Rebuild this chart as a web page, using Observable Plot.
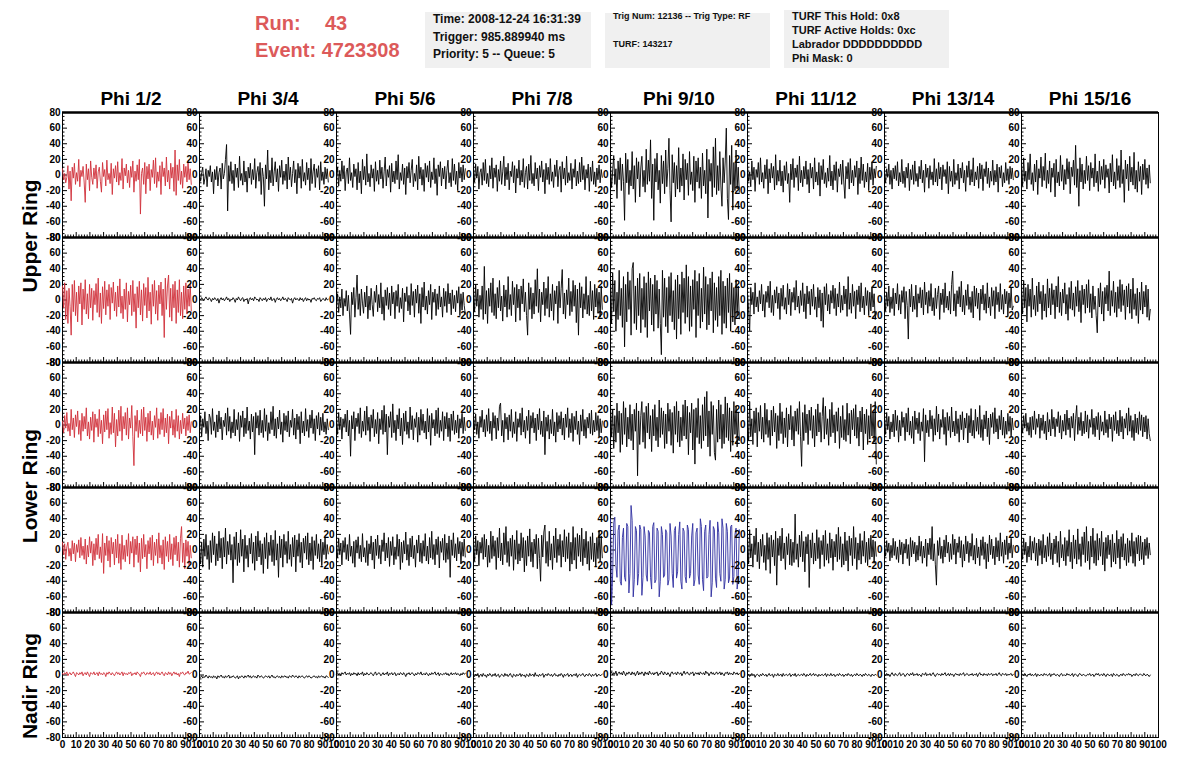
<!DOCTYPE html>
<html><head><meta charset="utf-8">
<script src="https://cdn.jsdelivr.net/npm/d3@7"></script>
<script src="https://cdn.jsdelivr.net/npm/@observablehq/plot@0.6"></script>
<style>
body{margin:0;background:#fff;font-family:"Liberation Sans",Arial,sans-serif;}
#wrap{position:relative;width:1196px;height:772px;overflow:hidden;}
#wrap svg{position:absolute;left:0;top:0;overflow:visible}
.run{position:absolute;color:#dc5a5a;font-weight:bold;font-size:20px;line-height:24px;white-space:nowrap}
.box{position:absolute;background:#f0f0f0;font-weight:bold;color:#111}
.box div{position:absolute;left:8px;white-space:nowrap}
.rowlab{position:absolute;font-weight:bold;font-size:21px;line-height:24px;white-space:nowrap;transform:translate(-50%,-50%) rotate(-90deg);left:30px}
</style></head>
<body>
<div id="wrap">
  <div class="run" style="left:255px;top:11px">Run:</div>
  <div class="run" style="left:325px;top:11px">43</div>
  <div class="run" style="left:255px;top:38px">Event: 4723308</div>
  <div class="box" style="left:425px;top:12px;width:166px;height:56px;font-size:12px;line-height:14px">
    <div style="top:0px">Time: 2008-12-24 16:31:39</div>
    <div style="top:18px">Trigger: 985.889940 ms</div>
    <div style="top:35px">Priority: 5 -- Queue: 5</div>
  </div>
  <div class="box" style="left:605px;top:13px;width:165px;height:55px;font-size:9px;line-height:10px">
    <div style="top:-2px">Trig Num: 12136 -- Trig Type: RF</div>
    <div style="top:26px">TURF: 143217</div>
  </div>
  <div class="box" style="left:784px;top:10px;width:165px;height:58px;font-size:11px;line-height:12px">
    <div style="top:0px">TURF This Hold: 0x8</div>
    <div style="top:14px">TURF Active Holds: 0xc</div>
    <div style="top:28px">Labrador DDDDDDDDDD</div>
    <div style="top:42px">Phi Mask: 0</div>
  </div>
  <div class="rowlab" style="top:236px">Upper Ring</div>
  <div class="rowlab" style="top:486px">Lower Ring</div>
  <div class="rowlab" style="top:686px">Nadir Ring</div>
</div>
<script>
// ---- categories / ticks ----
const phiLabels = ["Phi 1/2","Phi 3/4","Phi 5/6","Phi 7/8","Phi 9/10","Phi 11/12","Phi 13/14","Phi 15/16"];
const yTicks = [-80,-60,-40,-20,0,20,40,60,80];
const yMinorTicks = [-75,-70,-65,-55,-50,-45,-35,-30,-25,-15,-10,-5,5,10,15,25,30,35,45,50,55,65,70,75];
const xTicks = [0,10,20,30,40,50,60,70,80,90,100];
const xMinorTicks = [2,4,6,8,12,14,16,18,22,24,26,28,32,34,36,38,42,44,46,48,52,54,56,58,62,64,66,68,72,74,76,78,82,84,86,88,92,94,96,98];
const dtNs = 0.79; // sample spacing (ns)

// ---- Upper ring, first row (Phi 1/2 ... Phi 15/16) ----
const upperA = [
[8,-6,2,-10,-3,12,-18,5,-33,10,-4,15,-12,3,-8,20,-15,6,-2,11,-9,-35,14,-6,8,-20,18,-3,-12,9,-5,13,-17,4,10,-8,-22,16,-2,7,-14,19,-6,2,-11,15,-25,8,-4,12,-9,17,-13,3,-7,21,-18,9,-1,14,-10,6,-16,11,-3,18,-22,5,-8,13,-6,20,-50,2,9,-12,16,-24,11,-5,14,-20,7,-3,19,-11,22,-16,4,-8,12,-25,17,-2,9,-14,23,-9,6,-18,15,-4,10,-21,32,-26,13,-7,20,-12,5,-17,14,-3,11,-9,16,-6,8,-12],
[5,-8,3,10,-12,-4,8,-15,6,-2,12,-9,4,-24,7,-6,11,-14,3,9,-18,15,-5,2,20,39,-46,12,-8,17,-11,6,-20,14,-3,9,-16,24,-7,2,-13,18,-9,5,-22,10,-4,15,-12,7,-6,21,-17,3,11,-8,16,-25,9,-2,-40,13,-5,32,-19,6,-10,22,-14,4,17,-9,8,-21,12,-3,19,-12,5,-7,14,-18,23,-6,10,-15,2,18,-10,7,-24,15,-4,11,-17,20,-8,3,-13,16,-6,9,-20,21,-11,5,14,-16,8,-3,12,-19,17,-7,4,-12,10,-5,8,-9],
[-3,10,-14,6,-8,18,-5,12,-20,4,9,-11,22,-7,3,-16,14,-2,8,-19,16,-10,5,-24,20,-6,11,-13,27,-9,2,-15,13,-4,8,-21,17,-8,6,-12,19,-5,10,-17,4,23,-14,7,-3,12,-22,15,-9,5,-11,18,-6,26,-18,3,-7,14,-12,9,-25,11,-4,16,-10,6,20,-15,2,-8,13,-19,24,-5,10,-13,7,-21,15,-3,12,-9,18,-16,4,-6,22,-11,8,-26,13,-2,17,-14,9,-5,11,-18,6,19,-10,3,-15,21,-7,14,-12,5,-20,16,-4,10,-9,13,-6,8],
[6,-9,14,-4,11,-18,3,8,-13,16,-7,20,-11,2,-15,12,-5,22,-17,9,-3,13,-21,7,-8,18,-12,4,24,-14,10,-6,15,-19,5,-2,17,-10,12,-23,8,-4,19,-13,6,-9,21,-16,3,11,-18,14,-7,25,-11,2,-14,16,-5,9,-20,12,-3,18,-9,7,-24,15,-6,10,-12,21,-8,4,-16,13,-2,19,-15,6,11,-22,17,-5,9,-13,24,-10,3,-7,15,-18,8,-3,20,-14,5,-11,16,-9,23,-6,12,-19,7,-4,14,-21,10,-8,18,-12,4,-15,9,-6,13,-10,7,-3],
[10,-16,5,25,-12,8,-30,18,-6,22,-20,14,-8,-58,28,-10,20,-25,6,-14,30,-18,12,-35,22,-5,17,-28,9,24,-15,6,-22,33,-12,19,-8,45,-30,14,-58,21,-9,28,-19,6,-36,25,-11,18,-24,32,-15,8,47,-20,-60,26,-10,16,-28,12,-18,35,-22,9,-14,27,-32,20,-6,15,-26,30,-12,4,-20,24,-35,18,-9,22,-17,10,-30,28,-14,6,-24,33,-55,20,-8,15,-28,36,-16,47,-25,12,-20,30,-14,-40,22,-10,18,60,-30,-57,25,-12,38,-45,16,-20,32,-18,10,-22],
[12,-8,4,-15,18,-6,10,-21,7,-3,16,-12,22,-9,3,-17,13,-5,20,-24,8,-10,15,-4,11,-19,26,-13,6,-8,19,-14,5,-22,12,-7,17,-11,2,-35,14,-6,21,-16,9,-3,13,-20,24,-10,6,-15,11,-5,18,-12,7,-23,15,-4,10,-18,22,-9,4,-13,16,-27,12,-6,20,-11,3,-16,9,-8,25,-14,5,-19,13,-7,17,-22,8,-2,14,-12,19,-9,-30,11,-5,16,-18,21,-10,6,-14,12,-3,18,-25,9,-11,23,-7,14,-16,4,-9,15,-20,10,-6,17,-13,8,-4,11],
[4,-10,8,-3,14,-12,6,-18,9,-5,12,-7,17,-14,3,-9,20,-11,5,-16,10,-4,15,-20,7,-6,13,-12,18,-8,2,-15,11,-5,19,-10,6,-22,14,-3,9,-17,12,-6,4,-13,21,-9,8,-14,16,-5,10,-19,13,-2,7,-11,17,-24,11,-8,5,-15,20,-12,3,-7,14,-18,9,-4,16,-10,6,-21,12,-3,18,-13,7,-9,22,-14,4,-6,11,-17,15,-5,13,-20,8,-2,17,-11,9,-16,5,-8,19,-13,6,-9,14,-22,10,-4,12,-15,3,-10,16,-7,8,-12,11,-5,9,-6],
[10,-14,22,-8,5,-18,16,-6,27,-12,3,-20,14,-9,19,-25,8,-4,23,-15,11,-7,28,-17,6,-11,18,-22,9,-3,15,-28,20,-10,4,-14,25,-8,13,-19,7,-12,21,-5,17,-24,10,-2,19,-13,38,-16,8,-40,22,-9,14,-18,6,-11,24,-7,12,-20,16,-4,9,-15,27,-10,5,-21,18,-12,11,-6,20,-17,13,-3,8,-23,15,-9,26,-14,4,-18,21,-7,12,-16,32,-11,7,-35,19,-5,14,-20,24,-9,10,-13,29,-18,6,-22,17,-8,11,-25,14,-6,20,-12,9,-17,13,-10]
];

// ---- Upper ring, second row ----
const upperB = [
[18,-10,22,-25,12,-30,15,-8,-45,20,-15,25,-20,10,-28,18,-5,22,-32,14,-12,26,-18,8,-24,20,-10,15,-26,12,-6,21,-16,28,-22,9,-30,17,-11,24,-19,13,-8,20,-25,16,-4,23,-14,10,-21,18,-9,27,-17,5,-24,14,-12,22,-28,11,-6,19,-20,25,-15,8,-36,17,-10,24,-19,13,-27,21,-7,16,-23,29,-14,10,-31,20,-8,25,-18,12,-26,19,-5,23,-20,14,-48,28,-12,18,32,-22,15,-27,20,-10,24,-30,13,-16,26,-20,10,-24,18,-12,22,-18,14,-8,20,-14],
[2,0,3,1,-1,2,4,1,0,3,1,-2,2,0,3,1,-1,2,-4,1,3,0,2,-1,1,4,0,2,-2,1,0,3,1,-3,2,0,4,1,-1,2,3,-2,1,0,2,-5,1,3,0,2,-1,4,2,0,1,-2,3,1,-1,2,0,3,-2,1,2,0,4,-1,1,2,-3,1,3,0,2,-1,1,4,0,2,1,-2,3,1,0,2,-4,1,3,0,2,1,-1,3,0,2,-2,1,3,-1,2,0,1,-3,2,1,3,0,-1,2,1,3,-2,0,2,1,-1,3,0,1],
[-5,8,-16,4,-10,14,-20,2,-8,12,-14,6,-18,-44,10,-6,16,-22,3,32,-12,8,-20,14,-4,-17,10,-9,18,-24,5,-13,15,-6,-21,11,-3,19,-15,7,-10,22,-18,4,-26,13,-7,16,-12,9,-20,18,-5,10,-24,12,-8,20,-16,3,-11,15,-28,9,-2,17,-14,6,-19,21,-7,11,-22,14,-4,19,-17,8,-30,16,-9,23,-13,5,-18,12,-6,20,-25,10,-3,14,-20,8,-12,18,-9,4,-22,15,-8,11,-16,21,-5,9,-19,13,-11,6,-15,12,-4,17,-20,8,-13,10,-7,-18],
[10,-15,20,-8,14,-22,6,-12,18,-25,43,-18,12,-30,15,-8,22,-16,28,-20,8,-24,16,-10,25,-14,5,-27,19,-9,13,-22,30,-12,7,-20,24,-6,16,-28,20,-10,14,-26,18,-5,27,-15,10,-20,-45,22,-12,16,-24,9,-18,26,-8,40,-16,14,-28,10,-6,23,-20,15,-11,30,-22,8,-14,20,-26,12,-5,18,-30,24,-10,15,39,-18,9,-24,13,-6,28,-20,11,-15,25,-8,19,-29,14,-45,22,-10,17,-23,8,-12,30,-18,6,-20,24,-14,12,-25,20,-9,15,-17,10,-22,18,-12],
[20,-30,35,-15,25,-40,10,-25,38,-20,15,-35,30,-60,20,-28,36,-12,25,-45,40,48,-30,18,-38,28,-20,34,-42,15,-25,30,-35,22,-48,36,-14,28,-32,20,-40,32,-18,25,-36,14,-30,-70,38,-22,28,-34,16,-42,30,-20,35,-28,12,-38,26,-50,32,-24,20,-44,36,-16,28,-30,45,-22,30,-40,18,-34,26,-12,38,-48,24,-20,34,-36,15,-28,42,-18,30,-38,20,-32,28,-14,36,-42,22,-26,16,-34,30,-20,38,-44,24,-30,18,-36,28,-16,34,-40,22,-28,16,-32,26,-20,18,-24],
[8,-12,-40,16,-6,10,-18,22,-9,4,-15,12,-5,20,-14,7,-22,11,-3,18,-10,24,-16,6,-20,13,-4,17,-11,9,-25,15,-8,19,-12,3,-18,21,-6,14,-20,10,-3,16,-13,25,-9,5,-17,12,-7,22,-15,8,-24,18,-5,11,-19,14,-8,20,-12,4,-22,16,-10,13,-27,9,-35,17,-6,21,-14,7,-18,12,-4,19,-11,15,-20,8,-9,23,-16,6,-13,18,-5,14,-21,30,-12,9,-17,20,-8,11,-24,13,-6,18,-15,22,-10,5,-19,16,-7,12,-20,10,-14,17,-9,8,-25,-15],
[6,-14,10,-8,18,-16,4,-11,15,-20,9,-5,21,-13,7,-18,12,-3,17,-24,11,-7,-50,14,-9,20,-15,5,-12,19,-22,8,-4,16,-10,13,-19,23,-6,10,-17,12,-8,21,-14,3,-20,15,-11,7,18,-25,9,-6,14,-16,22,-10,5,-13,11,-18,20,37,-14,8,-21,12,-5,17,-9,24,-15,6,-19,13,-7,20,-12,4,-16,11,-23,18,-8,15,-11,9,-26,14,-5,19,-13,8,-17,22,-10,4,-20,16,-8,12,-24,17,-6,10,-15,21,-12,7,-18,14,-5,11,-21,9,-10,16,-13,-8],
[12,-18,25,-10,16,-28,20,-8,14,-22,28,-12,6,-20,18,-15,23,-5,11,-25,19,-14,8,-22,27,-10,15,-19,21,-6,13,-24,18,-9,30,-16,10,-20,14,-4,22,-18,7,-26,16,-11,24,-13,9,-21,17,-8,25,-15,12,-29,19,-6,14,-17,20,-10,26,-16,8,-23,18,-12,5,-20,-42,15,-9,22,-18,11,-27,16,-5,19,-14,37,-20,12,-8,24,-16,10,-22,17,-11,26,-15,20,-7,13,-25,18,-9,21,-17,14,-24,28,-12,8,-20,15,-30,10,-13,23,-18,11,-9,19,-22,14,-26,-12]
];

// ---- Lower ring, first row ----
const lowerA = [
[5,-10,12,-4,16,-8,2,-14,20,-6,9,-16,13,-2,18,-12,6,-20,15,-8,11,-5,22,-14,4,-18,10,-7,17,-22,14,-3,8,-15,20,-11,6,-24,13,-9,18,-6,21,-17,3,-12,23,-10,15,-28,7,-14,19,-8,24,-20,11,-5,16,-13,22,-18,9,-4,25,-15,-52,12,-8,19,-16,6,-11,20,-14,23,-7,10,-21,15,-9,18,-13,5,-19,12,-3,22,-17,8,-12,16,-6,21,-15,9,-10,14,-24,11,-4,18,-13,7,-16,20,-8,12,-18,6,-11,15,-5,9,-14,11,-7,13,-10,4],
[-6,12,-15,8,-3,17,-11,5,-20,14,9,-12,21,-7,4,-16,13,-9,18,-5,10,-19,6,-2,15,-13,22,-8,11,-17,4,-10,20,-14,7,-6,16,-21,12,-3,18,-15,9,-11,23,-7,5,-18,14,-9,11,-38,16,-4,12,-13,19,-10,6,-16,21,-8,13,-20,3,-11,17,-6,24,-14,8,-17,10,-5,19,-12,4,-22,15,-7,12,-9,18,-15,6,-3,20,-13,9,-18,14,-6,11,-24,17,-10,5,-14,21,-8,7,-16,13,-4,19,-11,8,-20,12,-5,16,-13,10,-7,15,-9,4,-12,8,-6],
[4,-12,16,-6,10,-18,8,-3,14,-9,19,-14,6,-40,12,-5,17,-20,9,-2,15,-11,22,-16,5,-8,18,-13,24,-7,10,-21,13,-4,20,-15,7,-11,16,-24,8,-6,19,-12,25,-9,14,-38,11,-3,17,-16,27,-10,6,-20,13,-5,21,-14,9,-25,15,-8,18,-12,4,-17,23,-6,12,-19,8,-3,16,-22,10,-13,20,-7,14,-10,5,-18,21,-9,12,-26,15,-4,7,-14,19,-11,22,-16,6,-8,17,-20,11,-5,16,-15,9,-21,14,-7,18,-12,6,-10,13,-17,8,-4,15,-11,10,-7],
[10,-6,14,-12,4,-17,11,-3,19,-9,7,-15,13,-8,21,-11,5,-20,16,-4,12,-18,9,-7,24,28,-14,6,-22,15,-5,10,-19,13,-8,20,-16,4,-11,17,-21,8,-3,15,-13,22,-9,6,-17,11,-7,19,-24,12,-4,16,-10,9,-20,14,-6,21,-12,5,-15,18,-38,10,-8,13,-18,7,-11,20,-14,4,-22,16,-9,12,-5,17,-13,9,-19,14,-3,22,-16,8,-10,15,-21,11,-6,18,-12,5,-25,13,-8,20,-14,7,-17,10,-4,15,-11,19,-13,6,-9,16,-7,12,-15,8,-10,5],
[25,-15,20,-30,12,-22,28,-10,18,-35,15,-25,30,-12,22,-28,10,-18,26,-20,14,-32,20,-8,28,-65,18,-25,12,30,-22,16,-30,24,-10,28,-18,12,-34,20,-14,26,-20,10,-28,32,-16,22,-12,18,-30,14,-24,28,-8,20,-26,16,-36,24,-12,30,-22,18,-28,10,-20,26,-14,32,-18,24,-38,16,-10,28,-32,20,-50,22,-16,34,-24,12,-30,26,-20,36,-14,43,-28,18,-40,30,-12,25,-35,-45,20,-22,32,-18,26,-30,14,-24,36,-16,28,-20,22,-34,18,-26,30,-12,24,-28,16,-20],
[12,-20,30,-15,8,-25,18,-10,22,-28,16,-8,25,-18,10,-22,28,-12,20,-16,6,-26,19,-14,24,-9,15,-30,12,-20,28,-11,17,-24,9,-16,22,-28,14,-6,25,-19,11,-27,18,-8,21,-12,30,-15,-53,16,-20,26,-10,14,-25,19,-7,23,-17,12,-28,20,-14,27,-9,16,-22,11,35,-18,24,-12,8,-26,20,-15,29,-10,13,-23,17,-8,22,-30,11,-16,25,-19,7,-21,28,-13,15,-24,19,-6,21,-14,26,-17,10,-27,18,-9,23,-32,14,-11,20,-25,12,-18,27,-14,16,-22,30,-50],
[8,-12,16,-6,11,-18,4,-9,14,-15,19,-7,12,-22,6,-14,17,-3,10,-20,15,-9,22,-13,5,-17,11,-24,18,-6,9,-11,16,-20,4,-8,21,-47,13,-10,6,-15,19,-5,12,-21,8,-13,24,-9,14,-18,7,-3,20,-12,10,-26,16,-7,11,-16,23,-9,5,-14,18,-11,8,-22,13,-6,17,-19,9,-4,15,-23,12,-10,21,-14,6,-17,20,-8,10,-12,25,-16,7,-20,13,-5,18,-15,9,-25,14,-3,16,-11,22,-9,8,-18,12,-6,19,-13,10,-17,5,-12,15,-8,11,-14,9,-6],
[6,-10,12,-4,15,-8,3,-13,10,-16,11,-6,18,-12,8,-3,14,-17,9,-7,13,-11,5,-19,16,-9,7,-14,20,-5,10,-15,8,-2,17,-10,12,-18,6,-8,14,-13,19,-6,9,-16,11,-4,15,-20,8,25,-12,10,-7,16,-14,5,-11,18,-9,13,-17,7,-3,20,-12,9,-15,11,-6,16,-19,12,-8,4,-13,18,-10,7,-16,14,-5,10,-21,13,-7,17,-11,6,-14,19,-9,11,-18,8,-4,15,-13,22,-8,12,-16,6,-20,14,-10,9,-12,17,-7,13,-15,10,-9,12,-18,8,-11,-20]
];

// ---- Lower ring, second row ----
const lowerB = [
[10,-6,8,-12,4,10,-8,2,-14,12,-5,9,-15,7,-3,13,-10,16,-7,5,-12,14,-18,6,-9,17,-4,11,-20,8,-13,15,-6,20,-11,4,-16,21,-30,9,-7,18,-14,12,-22,16,-5,10,-19,14,-10,20,-17,8,-25,19,-12,6,-15,13,-8,21,-18,11,-4,17,-22,14,-6,18,-16,9,-28,15,-11,20,-9,7,-24,12,-5,16,-13,19,-20,10,-7,14,-17,22,-10,6,-18,13,-25,17,-8,11,-15,20,-12,8,-20,16,-6,18,-14,10,-22,15,30,-16,9,-24,13,-8,11,-19,6,-10],
[5,-18,10,-22,14,-8,20,-12,6,-25,12,-16,22,-6,18,-20,8,-14,24,-10,15,-24,16,-9,28,-18,11,-6,20,-13,7,-42,17,-12,23,-20,9,-16,26,-8,14,-28,19,-11,6,-22,15,-5,21,-17,10,-26,18,-14,24,-9,12,-19,8,-30,16,-11,22,-24,10,-7,19,-15,13,-20,25,-13,8,-35,18,-10,14,-22,20,-6,11,-17,24,-12,7,-21,16,-9,19,-28,13,-8,21,-16,10,-23,15,-4,18,-12,22,-19,9,-14,17,-25,12,-7,20,-11,8,-15,14,-20,10,-6,16,-12,7,-5],
[4,-10,15,-6,9,-19,12,-3,16,-12,7,-14,20,-8,5,-17,11,-22,13,-4,17,-11,6,-15,21,-9,3,-16,12,-20,8,-5,18,-13,10,-24,14,-7,19,-11,6,-18,13,-2,22,-14,9,-10,16,-21,11,-7,17,-19,4,-12,20,-8,14,-25,10,-16,12,-5,23,-13,7,-20,15,-9,18,-11,6,-22,13,-4,19,-15,9,-17,12,-8,21,-14,5,-18,16,-10,24,-12,7,-19,14,-6,17,-23,11,-3,15,-13,20,-16,9,-12,18,-35,13,-7,22,-10,8,-14,16,-5,11,-18,10,-8,14,-9],
[8,-14,18,-6,12,-20,10,-4,16,-12,20,-9,14,-22,6,-16,24,-11,18,-8,12,-25,16,-10,28,-14,9,-19,22,-6,30,-16,11,-21,15,-8,19,-26,13,-12,25,-18,8,-14,22,-10,16,-28,12,-20,18,-8,27,-15,10,-22,14,-5,20,-24,15,-11,-40,19,-9,23,32,-17,11,-21,24,-13,8,-25,18,-10,28,-16,14,-7,20,-22,12,-9,26,-15,17,-11,22,-27,10,-18,30,-13,16,-24,21,-8,19,-15,28,-20,14,-10,24,-18,11,-26,17,-12,22,-15,9,-21,16,-11,25,-14,18,-10],
[40,-70,-30,35,42,-20,-35,25,32,-40,-45,16,28,-35,-40,34,30,-55,-30,57,38,-60,-38,30,25,-45,-30,32,26,-58,-35,30,18,-32,-40,25,22,-35,-50,30,35,-42,-38,28,24,-60,-40,30,20,-35,-32,26,22,-45,-38,34,18,-30,-48,25,30,-36,-28,20,36,-40,-50,28,24,-34,-42,32,26,-36,-30,18,34,-46,-38,22,28,-32,-44,40,30,-38,-52,24,32,-36,-34,20,38,-60,-42,30,26,-36,-48,36,22,-30,-40,40,28,-50,-38,34,24,-42,-36,30,32,-44,-34,20,28,-50,-38,26],
[12,-18,26,-10,8,-22,18,-6,28,-15,10,-24,14,-8,20,-16,6,-26,22,-12,16,-30,19,-9,13,-20,24,-45,15,-7,18,-14,28,-11,9,-25,17,-6,21,-19,14,-20,10,-16,46,-12,8,-22,19,-9,24,-15,11,-28,17,-5,20,-48,13,-10,22,-18,9,-14,26,-11,16,-24,12,-6,19,-21,25,-13,8,-17,22,-10,14,-26,11,-9,20,-15,29,-12,17,-22,8,-19,23,-14,12,-27,18,-7,15,-20,30,-11,16,-25,9,-13,21,-18,12,-8,24,-16,10,-20,15,-12,19,-9,13,-17,11,-8],
[5,-8,12,-3,9,-14,6,-10,15,-7,11,-12,4,-16,13,-6,10,-18,8,-4,14,-11,7,-20,16,-9,12,-5,10,-15,6,-13,18,-8,11,-17,5,-10,14,-21,9,-6,15,-12,30,-14,8,-19,-45,12,-7,16,-11,5,-17,13,-9,19,-4,10,-15,8,-12,20,-6,14,-18,9,-3,17,-10,12,-22,7,-14,18,-5,11,-16,9,-8,21,-13,6,-18,15,-10,4,-20,13,-7,17,-12,10,-24,8,-15,19,-6,14,-11,5,-19,16,-9,12,-14,22,-8,10,-17,13,-6,18,-12,9,-4,15,-10,6],
[8,-12,15,-6,10,-16,5,-9,18,-13,11,-4,16,-14,9,-20,14,-7,12,-18,20,-10,6,-15,17,-8,22,-12,9,-19,14,-5,18,-16,11,-22,24,-10,7,-14,16,-20,12,-8,26,-15,10,-24,19,-11,13,-18,27,-12,8,-21,17,-6,23,-16,30,-14,11,-25,18,-9,28,-17,12,-20,21,-13,15,-8,24,-19,10,-27,16,-11,19,-6,13,-22,20,-15,9,-18,25,-10,14,-24,17,-9,21,-13,8,-20,15,-16,12,-8,22,-17,11,-21,16,-5,19,-14,18,-12,10,-19,14,-7,16,-11,9,-6]
];

// ---- Nadir ring ----
const nadir = [
[2,0,3,1,4,-1,2,3,0,2,4,1,-2,3,2,0,3,1,4,-1,2,3,0,4,1,-2,3,2,1,4,0,2,3,-1,4,1,2,0,3,2,-2,3,1,4,2,0,3,1,-1,2,4,1,3,0,2,4,-1,3,1,2,0,3,2,4,-1,2,1,3,0,4,2,1,-2,3,2,4,1,0,3,2,1,4,0,2,3,-1,2,4,1,3,0,2,4,1,-1,3,2,0,4,1,3,-1,2,4,1,3,0,2,-2,3,2,4,1,0,3,2,5,1,2,3],
[-2,-3,-1,-4,-2,-3,0,-2,-4,-1,-3,-2,-4,-1,-3,-2,-5,-1,-3,-2,0,-3,-2,-4,-1,-3,-2,0,-4,-2,-3,-1,-2,-4,-3,-1,-5,-2,-3,-1,-2,-4,-1,-3,-2,0,-3,-1,-4,-2,-1,-3,-2,-4,0,-2,-3,-1,-2,-4,-3,-1,-2,-3,-1,-4,-2,0,-3,-2,-4,-2,-1,-3,-2,-4,-1,-3,-2,-1,-3,-2,-4,-1,-2,-3,0,-2,-3,-1,-2,-4,-1,-3,-2,-1,-3,-4,-2,-1,-3,-1,-2,-4,-3,-2,-1,-3,-2,-4,-1,-3,-2,-1,-3,-2,-4,-1,-2,-3],
[1,3,0,2,-1,3,1,2,4,0,2,1,3,-1,2,0,3,1,2,-1,3,0,2,1,4,-1,2,0,3,1,0,2,3,1,-1,2,4,0,1,3,2,-1,1,3,0,2,1,4,-1,2,1,3,0,2,3,-1,1,2,0,3,2,0,3,1,-2,2,1,3,0,2,3,1,-1,2,0,3,2,1,4,0,1,2,0,3,1,-1,2,0,3,1,2,4,0,1,3,-1,2,1,0,2,1,3,0,2,-1,1,3,0,2,1,3,0,2,1,-1,2,0,3,1,2],
[0,-2,1,-1,2,-3,0,1,-2,2,-1,0,-3,1,-1,2,0,-2,1,-1,2,-2,0,1,-3,-1,1,0,-2,2,-1,1,-2,0,2,-1,-3,1,0,-2,1,-1,0,2,-2,1,-1,0,-3,1,0,-2,2,-1,0,1,-2,3,-1,0,-2,1,-1,0,2,-3,0,1,-1,2,0,-1,1,-2,0,2,-1,0,-2,1,-1,2,0,-3,1,-1,0,2,-2,0,1,-2,0,1,-1,2,-3,0,1,-1,0,2,-1,-2,1,0,-1,2,0,-2,1,-1,0,2,-2,0,1,-1,0,1],
[2,4,0,3,1,5,-1,2,4,1,3,0,5,2,-1,3,1,4,2,0,4,1,3,-1,2,5,0,3,1,4,2,-1,4,1,3,0,5,2,1,3,0,3,2,4,-1,2,1,5,3,0,4,2,0,3,1,-2,3,4,1,2,3,0,4,2,1,3,-1,2,5,1,2,4,1,0,3,2,4,-1,2,3,1,3,0,4,2,1,3,0,5,2,3,-1,2,4,1,3,0,2,4,1,2,4,0,3,1,-1,3,2,4,0,3,1,2,0,4,2,1,3,0,2],
[-1,1,-2,0,2,-1,1,-3,0,1,0,-2,1,-1,2,0,-1,1,-2,0,2,-1,0,1,-3,1,0,-1,2,-1,0,1,-2,2,-1,0,1,-1,0,2,-2,0,1,-1,2,-2,0,1,-1,0,1,-1,2,0,-2,1,-1,0,2,-1,0,2,-1,1,0,-2,1,-1,0,1,-1,0,2,-2,1,0,-1,2,-1,0,1,-2,0,1,-1,2,0,-1,1,-2,0,1,-1,2,0,-1,1,-2,0,1,-1,2,0,-1,1,0,-2,1,-1,2,0,-1,1,0,-2,1,0,-1,1,0],
[1,-1,2,0,1,-2,1,3,0,-1,2,0,-1,1,3,-1,0,2,1,-2,0,2,1,-1,2,0,3,-1,1,0,2,-1,1,0,-2,2,1,0,3,-1,1,0,2,-1,1,3,0,-2,1,2,0,1,-1,2,0,1,3,-1,0,2,-1,2,0,1,-2,1,2,0,1,-1,2,0,1,3,-1,0,2,1,-1,1,0,2,-1,1,0,2,-2,1,3,0,1,-1,2,0,1,-1,2,0,1,2,-1,1,0,2,-1,1,3,0,-1,2,1,0,2,-1,1,0,1,2,-1,1],
[0,1,-1,2,0,-2,1,0,2,-1,1,-1,0,2,-2,1,0,-1,1,0,-1,2,0,1,-1,0,2,-2,1,0,2,0,-1,1,0,-2,1,2,-1,0,0,-1,2,0,1,-1,0,2,-2,1,1,0,-2,1,2,0,-1,1,0,-1,-1,1,0,2,-1,0,1,-2,0,2,0,2,-1,0,1,-1,2,0,-2,1,1,-1,0,1,-2,2,0,-1,1,0,-2,0,1,-1,2,0,-1,1,0,2,0,1,-2,0,1,-1,2,0,-1,1,1,0,-1,2,0,-1,1,0,-2,0]
];

const rowTraces = [upperA, upperB, lowerA, lowerB, nadir];

// line colours (style): Phi 1/2 column red, lower-ring Phi 9/10 blue, rest black
function traceColor(r, c) {
  if (c === 0) return "#d0303a";
  if (r === 3 && c === 4) return "#2f2fa0";
  return "#000000";
}

const samples = [];
rowTraces.forEach((traces, r) => traces.forEach((vals, c) => vals.forEach((v, i) => {
  samples.push({row: r, col: c, key: r + "-" + c, t: i * dtNs, v, color: traceColor(r, c)});
})));

const W = 1196, H = 772, mL = 62, mR = 38, mT = 112, mB = 35;
const cellW = (W - mL - mR) / 8, cellH = (H - mT - mB) / 5;

const chart = Plot.plot({
  width: W, height: H,
  marginLeft: mL, marginRight: mR, marginTop: mT, marginBottom: mB,
  style: {fontFamily: '"Liberation Sans", Arial, sans-serif', fontSize: "10px", fontWeight: "bold", background: "transparent", overflow: "visible", color: "black"},
  fx: {domain: d3.range(8), padding: 0, round: false},
  fy: {domain: d3.range(5), padding: 0, round: false, axis: null},
  x: {domain: [0, 100], label: null},
  y: {domain: [-80, 80], label: null},
  color: {type: "identity"},
  marks: [
    Plot.frame({stroke: "black", strokeWidth: 1}),
    Plot.ruleY([80], {stroke: "black", strokeWidth: 2.6}),
    Plot.tickY(yMinorTicks, {y: d => d, insetRight: cellW - 2.5, stroke: "black"}),
    Plot.tickY(yTicks, {y: d => d, insetRight: cellW - 5, stroke: "black"}),
    Plot.tickX(xMinorTicks, {x: d => d, insetTop: cellH - 2.5, stroke: "black"}),
    Plot.tickX(xTicks, {x: d => d, insetTop: cellH - 5, stroke: "black"}),
    Plot.line(samples, {x: "t", y: "v", fx: "col", fy: "row", z: "key", stroke: "color", strokeWidth: 0.9}),
    Plot.axisY(yTicks, {facetAnchor: null, anchor: "left", tickSize: 0, tickPadding: 2, tickFormat: d => String(d), fontSize: 10, fontWeight: "bold", label: null}),
    Plot.axisX(xTicks, {anchor: "bottom", tickSize: 0, tickPadding: 3, tickFormat: d => String(d), fontSize: 10, fontWeight: "bold", label: null}),
    Plot.axisFx({anchor: "top", tickSize: 0, tickPadding: 8, tickFormat: i => phiLabels[i], fontSize: 19, fontWeight: "bold", label: null})
  ]
});
document.getElementById("wrap").prepend(chart);
</script>
</body></html>
